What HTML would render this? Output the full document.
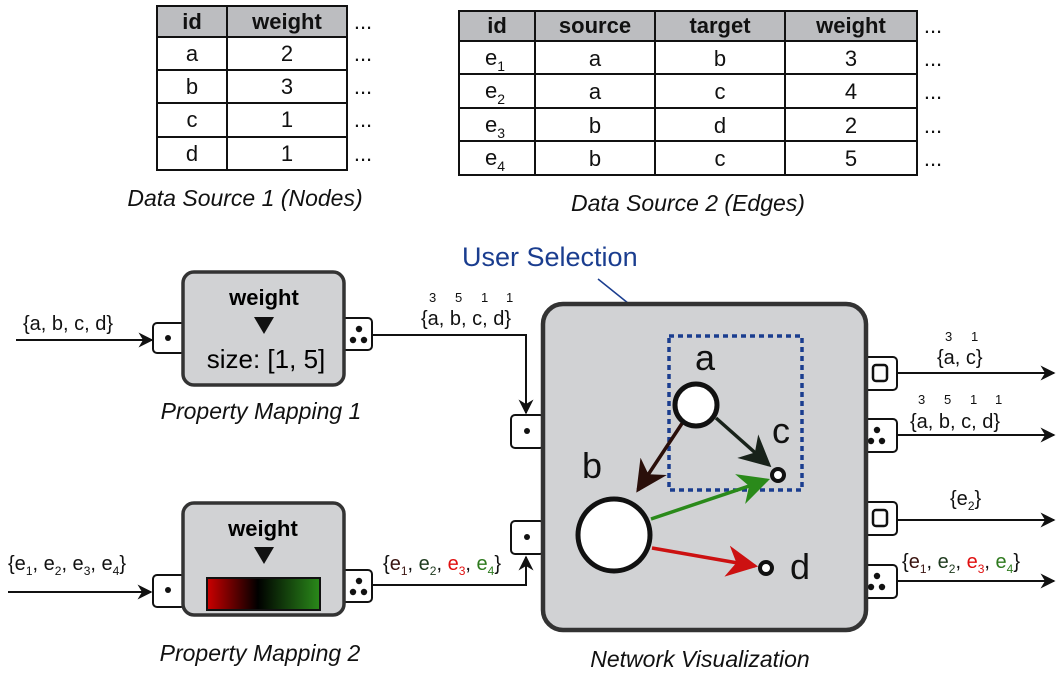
<!DOCTYPE html>
<html><head><meta charset="utf-8"><style>
body{margin:0;background:#fff}
svg{display:block;font-family:"Liberation Sans",sans-serif}
.t{font-size:22px;fill:#111}
.cap{font-size:23px;font-style:italic;fill:#111}
.port{fill:#fff;stroke:#111;stroke-width:2}
</style></head><body>
<svg width="1058" height="678" viewBox="0 0 1058 678">
<defs>
<marker id="ar" viewBox="0 0 10 10" refX="9" refY="5" markerWidth="15" markerHeight="15" markerUnits="userSpaceOnUse" orient="auto"><path d="M0,0L10,5L0,10L3,5z" fill="#111"/></marker>
<marker id="ab" viewBox="0 0 10 10" refX="9" refY="5" markerWidth="9" markerHeight="9" orient="auto"><path d="M0,0L10,5L0,10L3,5z" fill="#2a0f0a"/></marker>
<marker id="ak" viewBox="0 0 10 10" refX="9" refY="5" markerWidth="9" markerHeight="9" orient="auto"><path d="M0,0L10,5L0,10L3,5z" fill="#18221a"/></marker>
<marker id="ag" viewBox="0 0 10 10" refX="9" refY="5" markerWidth="9" markerHeight="9" orient="auto"><path d="M0,0L10,5L0,10L3,5z" fill="#2a8a1a"/></marker>
<marker id="ad" viewBox="0 0 10 10" refX="9" refY="5" markerWidth="9" markerHeight="9" orient="auto"><path d="M0,0L10,5L0,10L3,5z" fill="#cc1111"/></marker>
<linearGradient id="cg" x1="0" x2="1"><stop offset="0" stop-color="#c00"/><stop offset="0.45" stop-color="#000"/><stop offset="1" stop-color="#2a8a1a"/></linearGradient>
</defs>

<g stroke="#111" stroke-width="2">
<rect x="157" y="6" width="190" height="31" fill="#bcbdc0"/>
<rect x="157" y="37" width="190" height="133" fill="#fff"/>
<line x1="227" y1="6" x2="227" y2="170"/>
<line x1="157" y1="70" x2="347" y2="70"/><line x1="157" y1="103" x2="347" y2="103"/><line x1="157" y1="137" x2="347" y2="137"/>
</g>
<g class="t" text-anchor="middle">
<text x="192" y="29" font-weight="bold">id</text><text x="287" y="29" font-weight="bold">weight</text>
<text x="192" y="61">a</text><text x="287" y="61">2</text>
<text x="192" y="94">b</text><text x="287" y="94">3</text>
<text x="192" y="127">c</text><text x="287" y="127">1</text>
<text x="192" y="161">d</text><text x="287" y="161">1</text>
<text x="363" y="29">...</text><text x="363" y="61">...</text><text x="363" y="94">...</text><text x="363" y="127">...</text><text x="363" y="161">...</text>
</g>
<text class="cap" x="245" y="206" text-anchor="middle">Data Source 1 (Nodes)</text>

<g stroke="#111" stroke-width="2">
<rect x="459" y="11" width="458" height="30" fill="#bcbdc0"/>
<rect x="459" y="41" width="458" height="134" fill="#fff"/>
<line x1="535" y1="11" x2="535" y2="175"/><line x1="655" y1="11" x2="655" y2="175"/><line x1="785" y1="11" x2="785" y2="175"/>
<line x1="459" y1="74" x2="917" y2="74"/><line x1="459" y1="108" x2="917" y2="108"/><line x1="459" y1="141" x2="917" y2="141"/>
</g>
<g class="t" text-anchor="middle">
<text x="497" y="33" font-weight="bold">id</text><text x="595" y="33" font-weight="bold">source</text><text x="720" y="33" font-weight="bold">target</text><text x="851" y="33" font-weight="bold">weight</text>
<text x="495" y="65">e<tspan font-size="14" dy="6">1</tspan></text><text x="595" y="66">a</text><text x="720" y="66">b</text><text x="851" y="66">3</text>
<text x="495" y="98">e<tspan font-size="14" dy="6">2</tspan></text><text x="595" y="99">a</text><text x="720" y="99">c</text><text x="851" y="99">4</text>
<text x="495" y="132">e<tspan font-size="14" dy="6">3</tspan></text><text x="595" y="133">b</text><text x="720" y="133">d</text><text x="851" y="133">2</text>
<text x="495" y="165">e<tspan font-size="14" dy="6">4</tspan></text><text x="595" y="166">b</text><text x="720" y="166">c</text><text x="851" y="166">5</text>
<text x="933" y="33">...</text><text x="933" y="66">...</text><text x="933" y="99">...</text><text x="933" y="133">...</text><text x="933" y="166">...</text>
</g>
<text class="cap" x="688" y="211" text-anchor="middle">Data Source 2 (Edges)</text>

<text x="462" y="266" font-size="27" fill="#1a3d8f">User Selection</text>
<line x1="598" y1="279" x2="669" y2="336" stroke="#1a3d8f" stroke-width="1.5"/>

<g stroke="#111" stroke-width="2" fill="none">
<line x1="16" y1="340" x2="152" y2="340" marker-end="url(#ar)"/>
<polyline points="372,335 526,335 526,413" marker-end="url(#ar)"/>
<line x1="8" y1="592" x2="151" y2="592" marker-end="url(#ar)"/>
<polyline points="372,585 526,585 526,557" marker-end="url(#ar)"/>
<line x1="897" y1="373" x2="1054" y2="373" marker-end="url(#ar)"/>
<line x1="897" y1="435" x2="1054" y2="435" marker-end="url(#ar)"/>
<line x1="897" y1="520" x2="1054" y2="520" marker-end="url(#ar)"/>
<line x1="897" y1="581" x2="1054" y2="581" marker-end="url(#ar)"/>
</g>

<g>
<rect x="153" y="323" width="32" height="30" rx="4" class="port"/><circle cx="168" cy="338" r="3" fill="#111"/>
<rect x="340" y="318" width="32" height="32" rx="4" class="port"/>
<circle cx="359" cy="329" r="3.2" fill="#111"/><circle cx="353" cy="340" r="3.2" fill="#111"/><circle cx="364" cy="340" r="3.2" fill="#111"/>
<rect x="183" y="272" width="161" height="113" rx="11" fill="#d1d2d4" stroke="#333" stroke-width="3.5"/>
<text x="264" y="305" font-size="22" font-weight="bold" text-anchor="middle">weight</text>
<path d="M254,317L274,317L264,334z" fill="#111"/>
<text x="266" y="368" font-size="26" text-anchor="middle">size: [1, 5]</text>
</g>
<text class="cap" x="261" y="419" text-anchor="middle">Property Mapping 1</text>

<g>
<rect x="153" y="575" width="32" height="32" rx="4" class="port"/><circle cx="168" cy="590" r="3" fill="#111"/>
<rect x="340" y="570" width="32" height="32" rx="4" class="port"/>
<circle cx="359" cy="581" r="3.2" fill="#111"/><circle cx="353" cy="592" r="3.2" fill="#111"/><circle cx="364" cy="592" r="3.2" fill="#111"/>
<rect x="183" y="503" width="161" height="112" rx="11" fill="#d1d2d4" stroke="#333" stroke-width="3.5"/>
<text x="263" y="536" font-size="22" font-weight="bold" text-anchor="middle">weight</text>
<path d="M254,547L274,547L264,564z" fill="#111"/>
<rect x="207" y="578" width="113" height="32" fill="url(#cg)" stroke="#111" stroke-width="2"/>
</g>
<text class="cap" x="260" y="661" text-anchor="middle">Property Mapping 2</text>

<g font-size="20" fill="#111">
<text x="23" y="330">{a, b, c, d}</text>
<text x="421" y="325">{a, b, c, d}</text>
<g font-size="13"><text x="429" y="302">3</text><text x="455" y="302">5</text><text x="481" y="302">1</text><text x="506" y="302">1</text></g>
<text x="8" y="570">{e<tspan font-size="12" dy="5">1</tspan><tspan dy="-5">, e</tspan><tspan font-size="12" dy="5">2</tspan><tspan dy="-5">, e</tspan><tspan font-size="12" dy="5">3</tspan><tspan dy="-5">, e</tspan><tspan font-size="12" dy="5">4</tspan><tspan dy="-5">}</tspan></text>
<text x="383" y="570">{<tspan fill="#3a1410">e</tspan><tspan font-size="12" dy="5" fill="#3a1410">1</tspan><tspan dy="-5">, </tspan><tspan fill="#1e3a1e">e</tspan><tspan font-size="12" dy="5" fill="#1e3a1e">2</tspan><tspan dy="-5">, </tspan><tspan fill="#e01010">e</tspan><tspan font-size="12" dy="5" fill="#e01010">3</tspan><tspan dy="-5">, </tspan><tspan fill="#2e7a1e">e</tspan><tspan font-size="12" dy="5" fill="#2e7a1e">4</tspan><tspan dy="-5">}</tspan></text>
<text x="937" y="364">{a, c}</text>
<g font-size="13"><text x="945" y="341">3</text><text x="971" y="341">1</text></g>
<text x="910" y="428">{a, b, c, d}</text>
<g font-size="13"><text x="918" y="404">3</text><text x="944" y="404">5</text><text x="970" y="404">1</text><text x="995" y="404">1</text></g>
<text x="950" y="505">{e<tspan font-size="12" dy="5">2</tspan><tspan dy="-5">}</tspan></text>
<text x="902" y="568">{<tspan fill="#3a1410">e</tspan><tspan font-size="12" dy="5" fill="#3a1410">1</tspan><tspan dy="-5">, </tspan><tspan fill="#1e3a1e">e</tspan><tspan font-size="12" dy="5" fill="#1e3a1e">2</tspan><tspan dy="-5">, </tspan><tspan fill="#e01010">e</tspan><tspan font-size="12" dy="5" fill="#e01010">3</tspan><tspan dy="-5">, </tspan><tspan fill="#2e7a1e">e</tspan><tspan font-size="12" dy="5" fill="#2e7a1e">4</tspan><tspan dy="-5">}</tspan></text>
</g>

<g>
<rect x="511" y="415" width="33" height="33" rx="4" class="port"/><circle cx="527" cy="431" r="3" fill="#111"/>
<rect x="511" y="521" width="33" height="33" rx="4" class="port"/><circle cx="527" cy="537" r="3" fill="#111"/>
<rect x="864" y="357" width="33" height="33" rx="4" class="port"/><rect x="873" y="365" width="14" height="16" rx="3" fill="#fff" stroke="#111" stroke-width="2.5"/>
<rect x="864" y="419" width="33" height="33" rx="4" class="port"/><circle cx="877" cy="430" r="3.2" fill="#111"/><circle cx="871" cy="441" r="3.2" fill="#111"/><circle cx="882" cy="441" r="3.2" fill="#111"/>
<rect x="864" y="502" width="33" height="33" rx="4" class="port"/><rect x="873" y="510" width="14" height="16" rx="3" fill="#fff" stroke="#111" stroke-width="2.5"/>
<rect x="864" y="565" width="33" height="33" rx="4" class="port"/><circle cx="877" cy="576" r="3.2" fill="#111"/><circle cx="871" cy="587" r="3.2" fill="#111"/><circle cx="882" cy="587" r="3.2" fill="#111"/>
<rect x="543" y="304" width="323" height="326" rx="20" fill="#d1d2d4" stroke="#333" stroke-width="4.5"/>
<rect x="669" y="336" width="133" height="154" fill="none" stroke="#1a3d8f" stroke-width="3.5" stroke-dasharray="5,4"/>
<g stroke-width="3.5" fill="none">
<line x1="683" y1="422" x2="638" y2="490" stroke="#2a0f0a" marker-end="url(#ab)"/>
<line x1="716" y1="418" x2="769" y2="465" stroke="#18221a" marker-end="url(#ak)"/>
<line x1="651" y1="519" x2="767" y2="480" stroke="#2a8a1a" marker-end="url(#ag)"/>
<line x1="652" y1="548" x2="755" y2="566" stroke="#cc1111" marker-end="url(#ad)"/>
</g>
<circle cx="696" cy="405" r="21" fill="#fff" stroke="#111" stroke-width="5"/>
<circle cx="614" cy="535" r="36" fill="#fff" stroke="#111" stroke-width="5"/>
<circle cx="778" cy="475" r="6" fill="#fff" stroke="#111" stroke-width="4"/>
<circle cx="766" cy="568" r="6" fill="#fff" stroke="#111" stroke-width="4"/>
<g font-size="36" fill="#111">
<text x="695" y="370">a</text><text x="582" y="478">b</text><text x="772" y="443">c</text><text x="790" y="579">d</text>
</g>
</g>
<text class="cap" x="700" y="667" text-anchor="middle">Network Visualization</text>
</svg>
</body></html>
